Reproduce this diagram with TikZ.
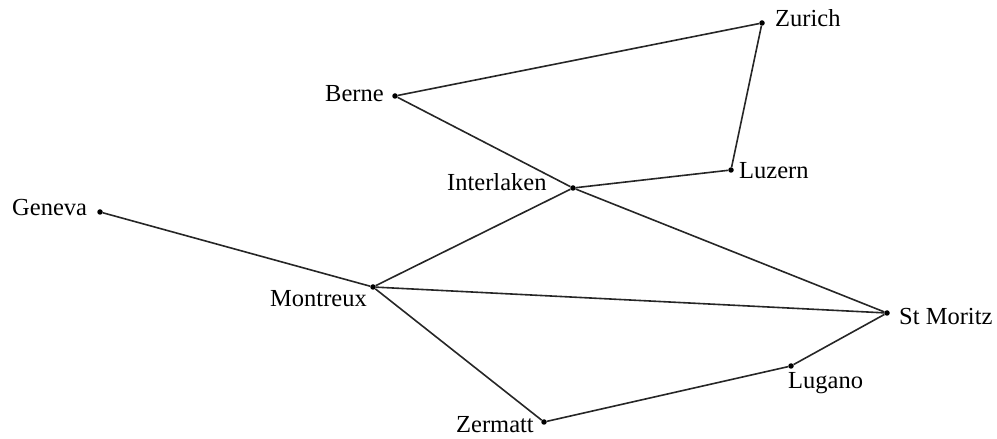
\documentclass[tikz,border=0pt]{standalone}
\usepackage{fontspec}
\setmainfont{Liberation Serif}
\begin{document}
\begin{tikzpicture}[x=1bp,y=-1bp,
  town/.style={circle,fill=black,inner sep=0pt,minimum size=5.5bp},
  lbl/.style={anchor=base west,inner sep=0pt,font=\fontsize{24.5bp}{28bp}\selectfont,text=black},
  road/.style={line width=1.6bp,draw=black!85}]
\useasboundingbox (0,0) rectangle (997,439);
\node[town] (zu) at (762,23) {};
\node[town] (be) at (395,96) {};
\node[town] (lu) at (731,170) {};
\node[town] (in) at (573,188) {};
\node[town] (ge) at (100,212) {};
\node[town] (mo) at (373,287) {};
\node[town] (sm) at (887,313) {};
\node[town] (lg) at (791,366) {};
\node[town] (ze) at (544,422) {};
\node[lbl] (tzu) at (775,27) {Zurich};
\node[lbl] (tbe) at (325,102) {Berne};
\node[lbl] (tlu) at (739,179) {Luzern};
\node[lbl] (tin) at (447,191) {Interlaken};
\node[lbl] (tge) at (12,216) {Geneva};
\node[lbl] (tmo) at (270,307) {Montreux};
\node[lbl] (tsm) at (899,325) {St Moritz};
\node[lbl] (tlg) at (788,389) {Lugano};
\node[lbl] (tze) at (456,432) {Zermatt};
\draw[road] (be) -- (zu);
\draw[road] (zu) -- (lu);
\draw[road] (lu) -- (in);
\draw[road] (be) -- (in);
\draw[road] (in) -- (sm);
\draw[road] (in) -- (mo);
\draw[road] (ge) -- (mo);
\draw[road] (mo) -- (sm);
\draw[road] (mo) -- (ze);
\draw[road] (ze) -- (lg);
\draw[road] (lg) -- (sm);
\end{tikzpicture}
\end{document}
